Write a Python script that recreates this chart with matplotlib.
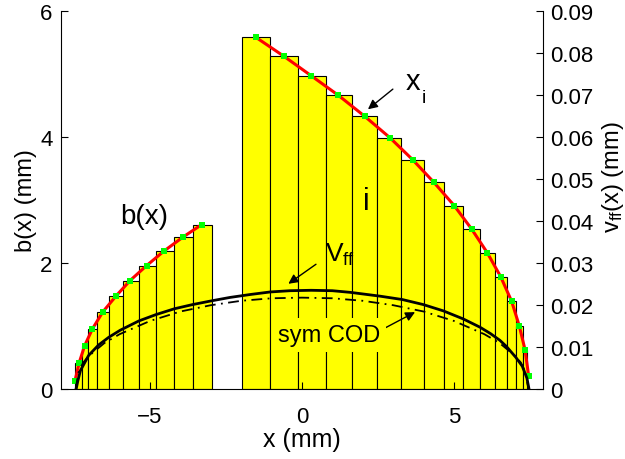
import matplotlib
matplotlib.use('Agg')
import matplotlib.pyplot as plt
import numpy as np

plt.rcParams['font.family'] = ['Liberation Sans', 'DejaVu Sans']
plt.rcParams['mathtext.fontset'] = 'custom'
plt.rcParams['mathtext.rm'] = 'Liberation Sans'
plt.rcParams['mathtext.it'] = 'Liberation Sans'
plt.rcParams['mathtext.default'] = 'regular'

# crack segment widths b(x), left and right of the ligament (mm)
left_edges = [-7.47, -7.25, -7.05, -6.76, -6.35, -5.90, -5.37, -4.82, -4.20, -3.60, -2.97]
left_b = [0.42, 0.69, 0.95, 1.22, 1.47, 1.72, 1.96, 2.19, 2.41, 2.61]
right_edges = [-1.96, -1.05, -0.14, 0.78, 1.63, 2.47, 3.27, 4.00, 4.68, 5.31,
               5.86, 6.34, 6.73, 7.05, 7.26, 7.41]
right_b = [5.58, 5.28, 4.97, 4.66, 4.33, 3.99, 3.64, 3.28, 2.91, 2.54,
           2.16, 1.78, 1.39, 1.00, 0.62]

# collocation points x_i
xi_left = [-7.47, -7.33, -7.15, -6.90, -6.56, -6.13, -5.66, -5.11, -4.54, -3.92, -3.30]
bi_left = [0.13, 0.42, 0.69, 0.95, 1.22, 1.47, 1.72, 1.96, 2.19, 2.41, 2.61]
xi_right = [-1.51, -0.59, 0.31, 1.20, 2.06, 2.89, 3.64, 4.34, 5.01, 5.58,
            6.10, 6.54, 6.90, 7.15, 7.34, 7.46]
bi_right = [5.58, 5.28, 4.97, 4.66, 4.33, 3.99, 3.64, 3.28, 2.91, 2.54,
            2.16, 1.78, 1.39, 1.00, 0.62, 0.20]

# far-field opening v_ff(x) and symmetric COD (mm)
x_vff = [-7.43, -7.38, -7.29, -7.02, -6.69, -6.36, -5.98, -5.37, -4.81, -4.20,
         -3.60, -2.97, -2.37, -1.70, -1.05, -0.40, 0.30, 1.00, 1.60, 2.57,
         3.30, 3.99, 4.65, 5.30, 5.86, 6.20, 6.51, 6.73, 7.04, 7.25, 7.40, 7.47]
vff = [0.0, 0.0018, 0.0044, 0.0080, 0.0105, 0.0123, 0.0140, 0.0162, 0.0177, 0.0191,
       0.0201, 0.0210, 0.0218, 0.0225, 0.0231, 0.0234, 0.0235, 0.0234, 0.0230, 0.0221,
       0.0213, 0.0201, 0.0186, 0.0167, 0.0147, 0.0132, 0.0116, 0.0101, 0.0075, 0.0054,
       0.0026, 0.0]
x_cod = [-7.45, -7.35, -7.2, -7.0, -6.5, -6.0, -5.0, -4.0, -3.0, -2.0, -1.0, 0.0,
         1.0, 2.0, 3.0, 4.0, 5.0, 6.0, 6.5, 7.0, 7.2, 7.35, 7.45]
cod = [0.0, 0.00405, 0.0063, 0.00795, 0.01095, 0.01305, 0.0162, 0.01845, 0.01995,
       0.0210, 0.0216, 0.02175, 0.0216, 0.0210, 0.01995, 0.01845, 0.0162, 0.01305,
       0.01095, 0.00795, 0.0063, 0.00405, 0.0]

fig = plt.figure(figsize=(6.25, 4.6), dpi=100)
ax = fig.add_axes([0.0976, 0.1522, 0.7712, 0.8217])

for edges, heights in [(left_edges, left_b), (right_edges, right_b)]:
    ax.bar(edges[:-1], heights, width=np.diff(edges), align='edge',
           color='#ffff00', edgecolor='k', linewidth=0.8, zorder=1)

for xs, bs in [(xi_left, bi_left), (xi_right, bi_right)]:
    ax.plot(xs, bs, '-', color='red', linewidth=2.2, zorder=3)
    ax.plot(xs, bs, 's', color='#00ff00', markersize=4.2, markeredgewidth=0, zorder=4)

ax.set_xlim(-7.93, 7.93)
ax.set_ylim(0, 6)
ax.set_xticks([-5, 0, 5])
ax.set_yticks([0, 2, 4, 6])
ax.tick_params(direction='in', length=5, labelsize=16)
ax.tick_params(axis='x', pad=12)
ax.tick_params(axis='y', pad=6)
ax.spines['top'].set_visible(False)
ax.spines['right'].set_visible(False)
ax.set_xlabel('x (mm)', fontsize=18)
ax.set_ylabel('b(x) (mm)', fontsize=17)
ax.xaxis.set_label_coords(0.5, -0.10)
ax.yaxis.set_label_coords(-0.05, 0.5)

ax2 = ax.twinx()
ax2.plot(x_vff, vff, '-', color='k', linewidth=2, zorder=3)
ax2.plot(x_cod, cod, color='k', linewidth=1.3, linestyle=(0, (6, 3, 1, 3)), zorder=2)
ax2.set_ylim(0, 0.09)
ax2.set_yticks(np.arange(0, 0.091, 0.01))
ax2.yaxis.set_major_formatter(plt.FuncFormatter(lambda v, p: '0' if abs(v) < 1e-9 else f'{v:.2f}'))
ax2.tick_params(direction='in', length=5, labelsize=16, pad=5)
for side in ['top', 'left', 'bottom']:
    ax2.spines[side].set_visible(False)
ax2.set_ylabel(r'v$_{ff}$(x) (mm)', fontsize=17)
ax2.yaxis.set_label_coords(1.118, 0.563)

# labels and arrows
arrow = dict(arrowstyle='-|>', color='k', linewidth=1, mutation_scale=14,
             shrinkA=0, shrinkB=0)
ax2.text(-5.20, 2.75, 'b(x)', transform=ax.transData, fontsize=20,
         ha='center', va='center')
ax2.text(2.12, 2.98, 'i', transform=ax.transData, fontsize=22,
         ha='center', va='center')
ax2.annotate('', xy=(2.17, 4.44), xytext=(2.99, 4.76),
             xycoords=ax.transData, textcoords=ax.transData, arrowprops=arrow)
ax2.text(3.42, 4.76, 'x', transform=ax.transData, fontsize=21,
         ha='left', va='baseline')
ax2.text(3.93, 4.55, 'i', transform=ax.transData, fontsize=14,
         ha='left', va='baseline')
ax2.annotate('', xy=(-0.45, 1.67), xytext=(0.46, 1.98),
             xycoords=ax.transData, textcoords=ax.transData, arrowprops=arrow)
ax2.text(0.76, 2.03, r'V$_{ff}$', transform=ax.transData, fontsize=19,
         ha='left', va='baseline')
ax2.annotate('', xy=(3.72, 1.22), xytext=(2.66, 0.95),
             xycoords=ax.transData, textcoords=ax.transData, arrowprops=arrow)
ax2.text(0.89, 0.86, 'sym COD', transform=ax.transData, fontsize=17,
         ha='center', va='center',
         bbox=dict(boxstyle='square,pad=0.25', facecolor='#ffff00', edgecolor='none'))

fig.savefig('out.png', dpi=100)
